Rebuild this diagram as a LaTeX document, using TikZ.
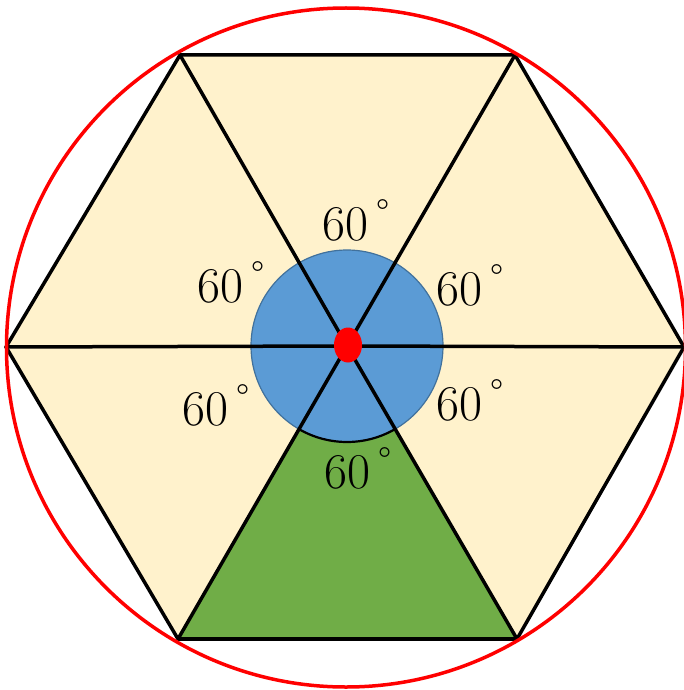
\documentclass[tikz,border=0pt]{standalone}
\usepackage{tikz}
\definecolor{hexcream}{RGB}{255,242,204}
\definecolor{hubblue}{RGB}{91,155,213}
\definecolor{hubedge}{RGB}{65,113,156}
\definecolor{sectorgreen}{RGB}{112,173,71}
\usetikzlibrary{calc}
\newcommand{\degsixty}{60\hspace{0.16em}\raisebox{0.3em}{\fontsize{38}{38}\selectfont °}}

\begin{document}
\begin{tikzpicture}[x=1pt,y=-1pt,
  spoke/.style={line width=3.5pt, line cap=round},
  anglelabel/.style={anchor=base west, inner sep=0pt,
    font=\fontsize{50}{60}\selectfont}]

  \useasboundingbox (0,0) rectangle (684,690);

  %% ===== HEXAGON CORNERS =====
  \coordinate (O)  at (347,346);
  \coordinate (TL) at (180,55);
  \coordinate (TR) at (515,55);
  \coordinate (R)  at (684,347);
  \coordinate (BR) at (517,639);
  \coordinate (BL) at (178,639);
  \coordinate (L)  at (6,347);

  % Cream hexagon and green sector
  \fill[hexcream] (TL) -- (TR) -- (R) -- (BR) -- (BL) -- (L) -- cycle;
  \fill[sectorgreen] (O) -- (BL) -- (BR) -- cycle;

  %% ===== CENTRAL DISC =====
  \filldraw[fill=hubblue, draw=hubedge, line width=1.2pt] (O) circle (96);
  \draw[line width=2.2pt] (O) ++(60:96) arc[start angle=60, end angle=120, radius=96];

  %% ===== EDGES AND SPOKES =====
  \draw[line width=3.5pt, line join=round]
    (TL) -- (TR) -- (R) -- (BR) -- (BL) -- (L) -- cycle;
  \draw[line width=4.5pt] (BL) -- (BR);
  \foreach \v in {TL,TR,R,BR,BL,L}
    \draw[spoke] (O) -- (\v);

  % Centre point
  \fill[red] (348,345) ellipse [x radius=14, y radius=17.5];

  %% ===== CIRCUMCIRCLE =====
  \draw[red, line width=3.5pt] (346,347.5) circle (339.5);

  % Labels
  \node[anglelabel] (aTop) at (322,240) {\degsixty};
  \node[anglelabel] (aUL)  at (197,302) {\degsixty};
  \node[anglelabel] (aUR)  at (436,305) {\degsixty};
  \node[anglelabel] (aLL)  at (182,425) {\degsixty};
  \node[anglelabel] (aLR)  at (436,420) {\degsixty};
  \node[anglelabel] (aBot) at (324,488) {\degsixty};

\end{tikzpicture}
\end{document}
